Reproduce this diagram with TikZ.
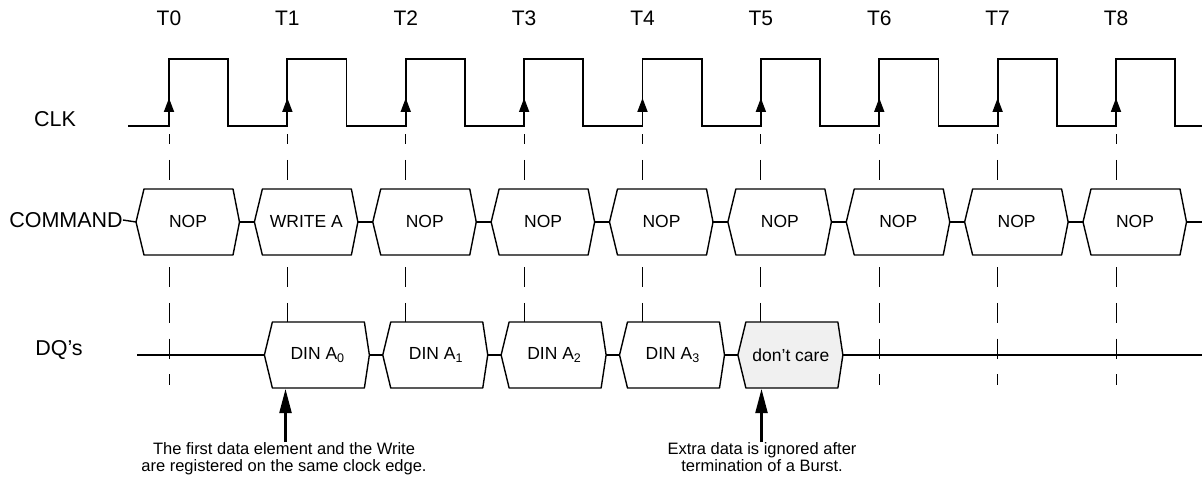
\documentclass[tikz,border=0pt]{standalone}
\usepackage{fontspec}
\setmainfont{Liberation Sans}
\usetikzlibrary{arrows.meta}
\newcommand{\lowsub}[1]{\raisebox{-0.3ex}{\fontsize{12.5}{13}\selectfont #1}}
\begin{document}
\begin{tikzpicture}[x=1pt,y=-1pt,
  wave/.style={line width=1.8pt, line join=miter},
  bus/.style={line width=1.4pt, fill=white, line join=round},
  busline/.style={line width=1.4pt},
  guide/.style={line width=0.9pt, dash pattern=on 20pt off 15.7pt, dash phase=10pt},
  rowlbl/.style={font=\fontsize{21.5}{24}\selectfont, inner sep=0pt},
  tlbl/.style={font=\fontsize{21}{24}\selectfont, inner sep=0pt},
  boxtxt/.style={font=\fontsize{17.5}{20}\selectfont, inner sep=0pt},
  note/.style={font=\fontsize{16.5}{17}\selectfont, align=center, inner sep=0pt},
  edgearrow/.style={-{Triangle[length=14pt,width=10pt]}, line width=1.8pt},
  bigarrow/.style={-{Triangle[length=24pt,width=12pt]}, line width=2.2pt}]
\useasboundingbox[fill=white] (0,0) rectangle (1202,484);

% time labels and guide lines
\foreach \k in {0,...,8}{
  \pgfmathsetmacro\x{169+118.375*\k}
  \node[tlbl] (t\k) at (\x,18) {T\k};
  \draw[guide] (\x,134.3) -- (\x,385);
}

% row labels
\node[rowlbl] (clk) at (55,119) {CLK};
\node[rowlbl] (cmd) at (66,220) {COMMAND};
\node[rowlbl] (dq) at (59,350) {DQ’s};

% clock waveform
\coordinate (clkStart) at (128,126);
\coordinate (clkEnd) at (1202,126);
\draw[wave] (clkStart)
  \foreach \k in {0,...,8}{
    -- ({169+118.375*\k},126) -- ({169+118.375*\k},59)
    -- ({228.2+118.375*\k},59) -- ({228.2+118.375*\k},126)
  } -- (clkEnd);
\foreach \k in {0,...,8}{
  \pgfmathsetmacro\x{169+118.375*\k}
  \draw[edgearrow] (\x,120) -- (\x,98);
}

% command bus
\foreach \k/\t in {0/NOP,1/WRITE A,2/NOP,3/NOP,4/NOP,5/NOP,6/NOP,7/NOP,8/NOP}{
  \pgfmathsetmacro\x{169+118.375*\k}
  \coordinate (cL\k) at (\x-33,222);
  \coordinate (cR\k) at (\x+70.5,222);
  \draw[bus] (cL\k) -- (\x-25,189) -- (\x+64,189) -- (cR\k) -- (\x+64,255) -- (\x-25,255) -- cycle;
  \node[boxtxt] (c\k) at (\x+19,221) {\t};
}
\coordinate (cEnd) at (1202,222);
\draw[busline] (cmd.east) -- (cL0);
\foreach \k in {0,...,7}{
  \pgfmathtruncatemacro\n{\k+1}
  \draw[busline] (cR\k) -- (cL\n);
}
\draw[busline] (cR8) -- (cEnd);

% DQ bus
\foreach \k/\t/\f in {1/{DIN A\lowsub{0}}/white,2/{DIN A\lowsub{1}}/white,3/{DIN A\lowsub{2}}/white,4/{DIN A\lowsub{3}}/white,5/{don’t care}/gray!12}{
  \pgfmathsetmacro\x{169+118.375*\k}
  \coordinate (dL\k) at (\x-23,355);
  \coordinate (dR\k) at (\x+82,355);
  \draw[bus, fill=\f] (dL\k) -- (\x-15,322) -- (\x+77,322) -- (dR\k) -- (\x+77,388) -- (\x-15,388) -- cycle;
  \node[boxtxt] (d\k) at (\x+30,355) {\t};
}
\coordinate (dStart) at (137,355);
\coordinate (dEnd) at (1202,355);
\draw[busline] (dStart) -- (dL1);
\foreach \k in {1,...,4}{
  \pgfmathtruncatemacro\n{\k+1}
  \draw[busline] (dR\k) -- (dL\n);
}
\draw[line width=2.4pt] (dR5) -- (dEnd);

% annotations
\node[note, anchor=north] (n1) at (284,442) {The first data element and the Write\\are registered on the same clock edge.};
\node[note, anchor=north] (n2) at (762,442) {Extra data is ignored after\\termination of a Burst.};
\coordinate (b1) at (285.5,389);
\coordinate (b5) at (761.5,389);
\draw[bigarrow] (n1.north -| b1) -- (b1);
\draw[bigarrow] (n2.north -| b5) -- (b5);
\end{tikzpicture}
\end{document}
